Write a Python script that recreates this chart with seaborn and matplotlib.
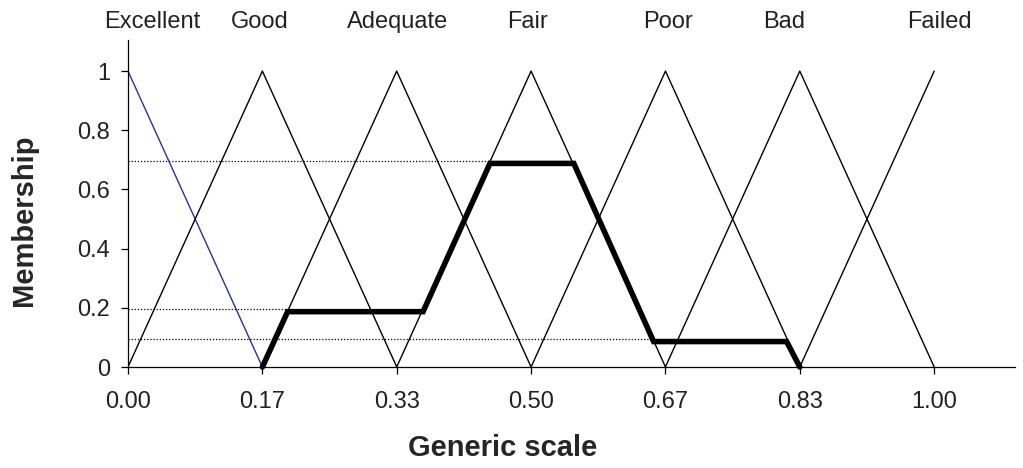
import matplotlib
matplotlib.use('Agg')
import matplotlib.pyplot as plt
import seaborn as sns
import pandas as pd

# Linguistic terms and the centres of their triangular membership functions
categories = ['Excellent', 'Good', 'Adequate', 'Fair', 'Poor', 'Bad', 'Failed']
centers = [0.0, 0.1667, 0.3333, 0.5, 0.6667, 0.8333, 1.0]
half_width = 0.1667

# Aggregated (clipped) output shape
out_x = [0.1667, 0.198, 0.366, 0.449, 0.553, 0.652, 0.817, 0.8333]
out_y = [0.0, 0.187, 0.187, 0.688, 0.688, 0.086, 0.086, 0.0]

# Dotted clipping levels and where they stop
level_y = [0.696, 0.195, 0.095]
level_end = [0.449, 0.198, 0.652]

x_ticks = [0.0, 0.1667, 0.3333, 0.5, 0.6667, 0.8333, 1.0]
x_tick_labels = ['0.00', '0.17', '0.33', '0.50', '0.67', '0.83', '1.00']
y_ticks = [0, 0.2, 0.4, 0.6, 0.8, 1]
y_tick_labels = ['0', '0.2', '0.4', '0.6', '0.8', '1']

# label positions along the top (x in data units)
label_x = [0.030, 0.163, 0.334, 0.495, 0.670, 0.814, 1.007]

sns.set_style('ticks')
plt.rcParams['font.family'] = ['Liberation Sans', 'DejaVu Sans']

fig = plt.figure(figsize=(10.23, 4.68), dpi=100)
ax = fig.add_axes([0.1251, 0.2158, 0.8669, 0.6987])

for name, c in zip(categories, centers):
    if name == 'Excellent':
        df = pd.DataFrame({'x': [0.0, c + half_width], 'y': [1.0, 0.0]})
        color = '#2e2e9e'
    elif name == 'Failed':
        df = pd.DataFrame({'x': [c - half_width, c], 'y': [0.0, 1.0]})
        color = 'black'
    else:
        df = pd.DataFrame({'x': [c - half_width, c, c + half_width], 'y': [0.0, 1.0, 0.0]})
        color = 'black'
    sns.lineplot(data=df, x='x', y='y', sort=False, estimator=None,
                 color=color, linewidth=1.0, ax=ax)

for ly, le in zip(level_y, level_end):
    sns.lineplot(x=[0.0, le], y=[ly, ly], color='black', linewidth=0.9,
                 linestyle=(0, (1, 1.5)), ax=ax)

out_df = pd.DataFrame({'x': out_x, 'y': out_y})
sns.lineplot(data=out_df, x='x', y='y', sort=False, estimator=None,
             color='black', linewidth=4.0, ax=ax, clip_on=False,
             solid_joinstyle='miter')

for name, lx in zip(categories, label_x):
    ax.text(lx, 1.166, name, ha='center', va='center', fontsize=17, color='#222222')

ax.set_xlim(0, 1.1)
ax.set_ylim(0, 1.105)
ax.set_xticks(x_ticks)
ax.set_xticklabels(x_tick_labels, fontsize=17)
ax.set_yticks(y_ticks)
ax.set_yticklabels(y_tick_labels, fontsize=17)
ax.tick_params(axis='both', direction='out', length=5, width=0.9, color='black', colors='#222222')
ax.tick_params(axis='x', pad=12)
ax.tick_params(axis='y', pad=8)
for side in ['top', 'right']:
    ax.spines[side].set_visible(False)
for side in ['left', 'bottom']:
    ax.spines[side].set_linewidth(0.9)
    ax.spines[side].set_color('black')

ax.set_xlabel('Generic scale', fontsize=21, fontweight='bold', va='center')
ax.set_ylabel('Membership', fontsize=21, fontweight='bold', va='center')
ax.xaxis.set_label_coords(503 / 1023, 1 - 448 / 468, transform=fig.transFigure)
ax.yaxis.set_label_coords(24 / 1023, 1 - 220 / 468, transform=fig.transFigure)

fig.savefig('out.png', dpi=100)
